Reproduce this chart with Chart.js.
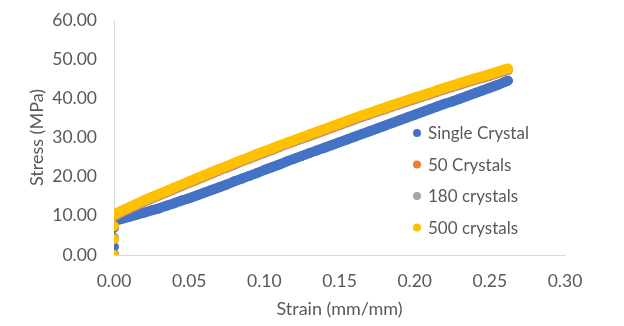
<!DOCTYPE html>
<html>
<head>
<meta charset="utf-8">
<script src="https://cdn.jsdelivr.net/npm/chart.js@4.4.1/dist/chart.umd.min.js"></script>
<style>
  html, body { margin: 0; padding: 0; background: #fff; }
  #wrap { width: 624px; height: 326px; }
</style>
</head>
<body>
<div id="wrap"><canvas id="chart" width="624" height="326"></canvas></div>
<script>
// strain points of the plastic part (shared by all series)
var strain = [0.000, 0.005, 0.010, 0.015, 0.020, 0.025, 0.030, 0.035, 0.040, 0.045,
              0.050, 0.055, 0.060, 0.065, 0.070, 0.075, 0.080, 0.085, 0.090, 0.095,
              0.100, 0.105, 0.110, 0.115, 0.120, 0.125, 0.130, 0.135, 0.140, 0.145,
              0.150, 0.155, 0.160, 0.165, 0.170, 0.175, 0.180, 0.185, 0.190, 0.195,
              0.200, 0.205, 0.210, 0.215, 0.220, 0.225, 0.230, 0.235, 0.240, 0.245,
              0.250, 0.255, 0.260, 0.262];

// elastic points, all at strain 0
var singleStart = [0.3, 2.1, 4.4, 6.9];
var c50Start    = [0.0, 4.0, 7.3];
var c180Start   = [0.0, 4.1, 7.4];
var c500Start   = [0.0, 4.1, 7.4];

var singleStress = [8.6, 9.2, 9.7, 10.3, 10.8, 11.4, 11.9, 12.6, 13.2, 13.9,
                    14.5, 15.2, 15.9, 16.6, 17.3, 18.0, 18.8, 19.5, 20.2, 20.9,
                    21.7, 22.4, 23.1, 23.9, 24.6, 25.3, 26.0, 26.7, 27.4, 28.1,
                    28.8, 29.5, 30.2, 30.9, 31.6, 32.3, 33.0, 33.7, 34.4, 35.1,
                    35.8, 36.5, 37.2, 37.9, 38.6, 39.2, 39.9, 40.6, 41.3, 42.0,
                    42.7, 43.4, 44.2, 44.5];
var c50Stress = [9.9, 10.9, 11.8, 12.7, 13.6, 14.4, 15.2, 16.0, 16.8, 17.6,
                 18.4, 19.2, 20.0, 20.8, 21.6, 22.3, 23.1, 23.9, 24.6, 25.4,
                 26.1, 26.8, 27.6, 28.3, 29.0, 29.7, 30.4, 31.1, 31.8, 32.5,
                 33.2, 33.9, 34.6, 35.3, 35.9, 36.6, 37.2, 37.9, 38.5, 39.2,
                 39.8, 40.4, 41.0, 41.7, 42.3, 42.9, 43.5, 44.1, 44.7, 45.2,
                 45.8, 46.4, 47.0, 47.2];
var c180Stress = [10.1, 11.1, 12.0, 12.9, 13.8, 14.6, 15.4, 16.2, 17.0, 17.8,
                  18.6, 19.4, 20.2, 21.0, 21.8, 22.5, 23.3, 24.1, 24.8, 25.6,
                  26.3, 27.0, 27.8, 28.5, 29.2, 29.9, 30.6, 31.3, 32.0, 32.7,
                  33.4, 34.1, 34.8, 35.5, 36.1, 36.8, 37.4, 38.1, 38.7, 39.4,
                  40.0, 40.6, 41.2, 41.9, 42.5, 43.1, 43.7, 44.3, 44.9, 45.4,
                  46.0, 46.6, 47.2, 47.4];
var c500Stress = [10.3, 11.3, 12.2, 13.1, 14.0, 14.8, 15.6, 16.4, 17.2, 18.0,
                  18.8, 19.6, 20.4, 21.2, 22.0, 22.7, 23.5, 24.3, 25.0, 25.8,
                  26.5, 27.2, 28.0, 28.7, 29.4, 30.1, 30.8, 31.5, 32.2, 32.9,
                  33.6, 34.3, 35.0, 35.7, 36.3, 37.0, 37.6, 38.3, 38.9, 39.6,
                  40.2, 40.8, 41.4, 42.1, 42.7, 43.3, 43.9, 44.5, 45.1, 45.6,
                  46.2, 46.8, 47.4, 47.6];

var seriesNames  = ['Single Crystal', '50 Crystals', '180 crystals', '500 crystals'];
var seriesColors = ['#4472C4', '#ED7D31', '#A5A5A5', '#FFC000'];

var xTicks = { min: 0, max: 0.30, step: 0.05 };
var yTicks = { min: 0, max: 60, step: 10 };

var FONT = 'Lato';
var TEXT = '#595959';

function toPoints(start, stress) {
    var pts = start.map(function(s) { return { x: 0, y: s }; });
    stress.forEach(function(s, i) { pts.push({ x: strain[i], y: s }); });
    return pts;
}

var starts   = [singleStart, c50Start, c180Start, c500Start];
var stresses = [singleStress, c50Stress, c180Stress, c500Stress];

var datasets = seriesNames.map(function(name, i) {
    return {
        label: name,
        data: toPoints(starts[i], stresses[i]),
        backgroundColor: seriesColors[i],
        borderColor: seriesColors[i],
        pointRadius: 4.5,
        pointBorderWidth: 1,
        // the markers are so dense they merge into a band; a wide line fills the gaps
        showLine: true,
        borderWidth: 10,
        borderCapStyle: 'round',
        borderJoinStyle: 'round',
        segment: {
            borderColor: function(ctx) {
                return ctx.p0.parsed.x === ctx.p1.parsed.x ? 'rgba(0,0,0,0)' : undefined;
            }
        },
        order: seriesNames.length - i   // later series on top, like Excel
    };
});

// legend drawn over the plot area, as in the original
var floatingLegend = {
    id: 'floatingLegend',
    afterDraw: function(chart) {
        var ctx = chart.ctx;
        var x0 = 417, y0 = 133, gap = 31.5;
        ctx.save();
        ctx.font = '17px ' + FONT;
        ctx.textBaseline = 'middle';
        ctx.textAlign = 'left';
        chart.data.datasets.forEach(function(ds, i) {
            var y = y0 + i * gap;
            ctx.fillStyle = ds.backgroundColor;
            ctx.beginPath();
            ctx.arc(x0, y, 4, 0, Math.PI * 2);
            ctx.fill();
            ctx.fillStyle = TEXT;
            ctx.fillText(ds.label, x0 + 11, y + 1);
        });
        ctx.restore();
    }
};

new Chart(document.getElementById('chart'), {
    type: 'scatter',
    data: { datasets: datasets },
    plugins: [floatingLegend],
    options: {
        responsive: false,
        animation: false,
        layout: { padding: { left: 0, top: 20, right: 59, bottom: 0 } },
        plugins: {
            legend: { display: false },
            tooltip: { enabled: false }
        },
        scales: {
            x: {
                type: 'linear',
                min: xTicks.min, max: xTicks.max,
                grid: { display: false, drawTicks: false },
                border: { display: true, color: '#D9D9D9', width: 1 },
                ticks: {
                    stepSize: xTicks.step,
                    padding: 16,
                    color: TEXT,
                    font: { family: FONT, size: 17.5 },
                    callback: function(v) { return v.toFixed(2); }
                },
                title: {
                    display: true,
                    text: 'Strain (mm/mm)',
                    color: TEXT,
                    font: { family: FONT, size: 18 },
                    padding: { top: 0, bottom: 6 }
                },
                afterFit: function(s) { s.height = 71; s.paddingLeft = 0; s.paddingRight = 0; }
            },
            y: {
                type: 'linear',
                min: yTicks.min, max: yTicks.max,
                grid: { display: false, drawTicks: false },
                border: { display: true, color: '#D9D9D9', width: 1 },
                ticks: {
                    stepSize: yTicks.step,
                    padding: 17,
                    color: TEXT,
                    font: { family: FONT, size: 17.5 },
                    callback: function(v) { return v.toFixed(2); }
                },
                title: {
                    display: true,
                    text: 'Stress (MPa)',
                    color: TEXT,
                    font: { family: FONT, size: 18 },
                    padding: { top: 26, bottom: 0 }
                },
                afterFit: function(s) { s.width = 114; s.paddingTop = 0; s.paddingBottom = 0; }
            }
        }
    }
});
</script>
</body>
</html>
